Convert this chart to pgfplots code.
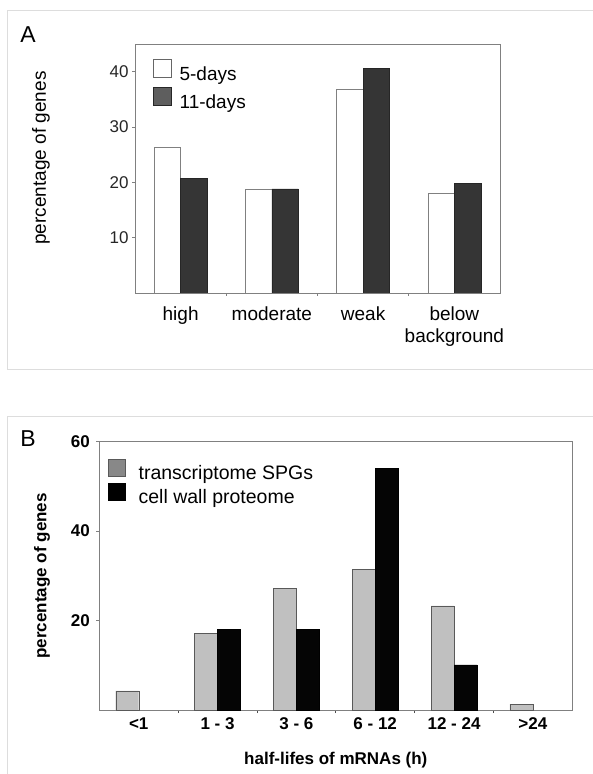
\documentclass[border=0pt]{standalone}
\usepackage{fontspec}
\setmainfont{Liberation Sans}
\usepackage{pgfplots}
\pgfplotsset{compat=1.18}

\definecolor{axisgray}{HTML}{808080}
\definecolor{framegray}{HTML}{DDDDDD}
\definecolor{darkbar}{HTML}{353535}
\definecolor{darkleg}{HTML}{5E5E5E}
\definecolor{lightbar}{HTML}{C0C0C0}
\definecolor{midleg}{HTML}{888888}

\begin{document}
\begin{tikzpicture}
\useasboundingbox (0pt,0pt) rectangle (592pt,774pt);
% panel frames
\draw[framegray, line width=1pt] (600pt,763pt) -- (7pt,763pt) -- (7pt,404pt) -- (600pt,404pt);
\draw[framegray, line width=1pt] (600pt,357.3pt) -- (7pt,357.3pt) -- (7pt,-10pt);
\node[font=\fontsize{23}{26}\selectfont] at (28pt,739pt) {A};
\node[font=\fontsize{23}{26}\selectfont] at (28pt,335pt) {B};

% panel A
\begin{axis}[
    at={(135pt,481pt)}, anchor=south west,
    scale only axis, width=365pt, height=249pt,
    xmin=-0.5, xmax=3.5, ymin=0, ymax=45,
    axis line style={draw=axisgray, line width=0.8pt},
    xtick={0,1,2,3},
    xticklabels={high,moderate,weak,below\\background},
    minor xtick={0.5,1.5,2.5},
    ytick={10,20,30,40},
    tick align=outside, tick pos=left,
    major tick length=3pt, minor tick length=3pt,
    tick style={draw=axisgray, line width=0.8pt},
    major x tick style={draw=none},
    xticklabel style={align=center, font=\fontsize{19}{22}\selectfont, yshift=-7pt},
    yticklabel style={font=\fontsize{17}{20}\selectfont, text=black!85},
    /pgf/number format/assume math mode=true,
    ylabel={percentage of genes},
    ylabel style={at={(axis description cs:-0.2575,0.542)}, anchor=center,
        font=\fontsize{19}{22}\selectfont},
    legend style={at={(axis description cs:0,1)}, anchor=north west,
        xshift=18pt, yshift=-15pt, draw=none, fill=none, inner sep=0pt,
        row sep=3pt, font=\fontsize{19}{22}\selectfont,
        /tikz/every odd column/.append style={column sep=6pt}},
    legend cell align=left,
]
\addplot[ybar, bar width=26.5pt, bar shift=-13.25pt, draw=axisgray, fill=white, forget plot]
    coordinates {(0,26.4) (1,18.8) (2,36.8) (3,18.0)};
\addplot[ybar, bar width=26.5pt, bar shift=13.25pt, draw=black!85, fill=darkbar, forget plot]
    coordinates {(0,20.7) (1,18.8) (2,40.6) (3,19.8)};
\addlegendimage{legend image code/.code={\draw[draw=black!60, fill=white] (0pt,-3pt) rectangle (18pt,15pt);}}
\addlegendentry{5-days}
\addlegendimage{legend image code/.code={\draw[draw=black!85, fill=darkleg] (0pt,-3pt) rectangle (18pt,15pt);}}
\addlegendentry{11-days}
\end{axis}

% panel B
\begin{axis}[
    at={(99.3pt,64pt)}, anchor=south west,
    scale only axis, width=473pt, height=268.3pt,
    xmin=-0.5, xmax=5.5, ymin=0, ymax=60,
    axis line style={draw=axisgray, line width=0.8pt},
    xtick={0,1,2,3,4,5},
    xticklabels={<1,1 - 3,3 - 6,6 - 12,12 - 24,>24},
    minor xtick={0.5,1.5,2.5,3.5,4.5},
    ytick={20,40,60},
    tick align=outside, tick pos=left,
    major tick length=3pt, minor tick length=3pt,
    tick style={draw=axisgray, line width=0.8pt},
    minor x tick style={draw=black!70},
    major x tick style={draw=none},
    xticklabel style={font=\bfseries\fontsize{17}{20}\selectfont, yshift=-1pt},
    yticklabel style={font=\bfseries\fontsize{17}{20}\selectfont, xshift=-3pt},
    /pgf/number format/assume math mode=true,
    xlabel={half-lifes of mRNAs (h)},
    xlabel style={at={(axis description cs:0.5,-0.186)}, anchor=center,
        font=\bfseries\fontsize{17}{20}\selectfont},
    ylabel={percentage of genes},
    ylabel style={at={(axis description cs:-0.121,0.5)}, anchor=center,
        font=\bfseries\fontsize{17}{20}\selectfont},
    legend style={at={(axis description cs:0,1)}, anchor=north west,
        xshift=8.7pt, yshift=-16.6pt, draw=none, fill=none, inner sep=0pt,
        row sep=0.5pt, font=\fontsize{19.5}{22}\selectfont,
        /tikz/every odd column/.append style={column sep=11pt}},
    legend cell align=left,
]
\addplot[ybar, bar width=23pt, bar shift=-11.5pt, draw=black!65, fill=lightbar, forget plot]
    coordinates {(0,4.3) (1,17.2) (2,27.2) (3,31.5) (4,23.3) (5,1.3)};
\addplot[ybar, bar width=23pt, bar shift=11.5pt, draw=black, fill=black!98, forget plot]
    coordinates {(1,18.0) (2,18.0) (3,54.0) (4,10.1)};
\addlegendimage{legend image code/.code={\draw[draw=black!65, fill=midleg] (0pt,-3pt) rectangle (17pt,14pt);}}
\addlegendentry{transcriptome SPGs}
\addlegendimage{legend image code/.code={\draw[draw=black, fill=black] (0pt,-3pt) rectangle (17pt,14pt);}}
\addlegendentry{cell wall proteome}
\end{axis}
\end{tikzpicture}
\end{document}
